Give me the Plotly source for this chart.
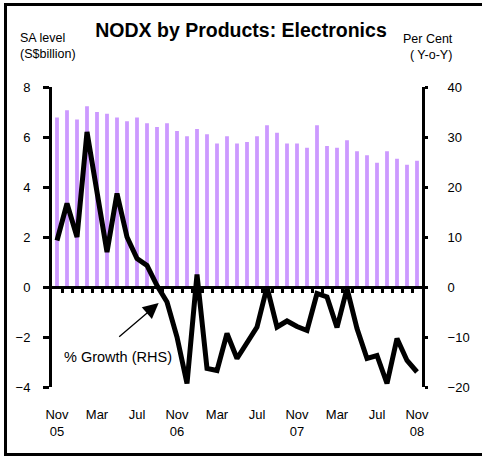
import plotly.graph_objects as go

# ---- data ----
months = list(range(37))  # Nov 05 .. Nov 08
nodx_level = [6.78, 7.07, 6.70, 7.23, 7.00, 6.93, 6.78, 6.63, 6.78, 6.55,
              6.40, 6.55, 6.24, 6.03, 6.32, 6.11, 5.74, 6.03, 5.74, 5.80,
              6.03, 6.47, 6.17, 5.74, 5.74, 5.57, 6.47, 5.64, 5.57, 5.87,
              5.43, 5.27, 4.97, 5.43, 5.13, 4.89, 5.05]
growth_yoy = [9.3, 16.7, 10.0, 31.0, 19.0, 7.0, 18.7, 10.0, 5.7, 4.3,
              0.3, -3.0, -10.0, -19.3, 2.5, -16.3, -16.7, -9.3, -14.3, -11.0,
              -8.0, 0.0, -8.0, -6.8, -7.9, -8.7, -1.3, -2.0, -8.1, -0.3,
              -8.3, -14.3, -13.7, -19.3, -10.3, -14.7, -17.0]
tick_pos = [0, 4, 8, 12, 16, 20, 24, 28, 32, 36]
tick_text = ["Nov<br>05", "Mar", "Jul", "Nov<br>06", "Mar", "Jul",
             "Nov<br>07", "Mar", "Jul", "Nov<br>08"]
left_ticks = [-4, -2, 0, 2, 4, 6, 8]
right_ticks = [-20, -10, 0, 10, 20, 30, 40]

W, H = 482, 456
L, R, T, B = 52, 52, 87, 69
PW, PH = W - L - R, H - T - B


def px(x):
    return (x - L) / PW


def py(y):
    return (H - B - y) / PH


FONT = "Liberation Sans, Arial, sans-serif"

fig = go.Figure()
fig.add_trace(go.Bar(x=months, y=nodx_level, marker_color="#CC99FF",
                     marker_line_width=0, xaxis="x", yaxis="y",
                     showlegend=False))
fig.add_trace(go.Scatter(x=months, y=growth_yoy, mode="lines",
                         line=dict(color="black", width=5),
                         xaxis="x2", yaxis="y2", showlegend=False))

fig.update_layout(
    width=W, height=H,
    margin=dict(l=L, r=R, t=T, b=B, pad=0),
    paper_bgcolor="white", plot_bgcolor="white",
    font=dict(family=FONT, size=13, color="black"),
    bargap=0.62,
    title=dict(text="<b>NODX by Products: Electronics</b>",
               x=0.5, xref="container", xanchor="center",
               y=1 - 30 / H, yref="container", yanchor="middle",
               font=dict(size=19.5, family=FONT, color="black")),
    xaxis=dict(range=[-0.5, 36.5], tickvals=tick_pos, ticktext=tick_text,
               showline=False, ticks="", showgrid=False, zeroline=False,
               ticklabelstandoff=18, tickfont=dict(size=13)),
    xaxis2=dict(range=[-0.5, 36.5], overlaying="x", anchor="free",
                position=1 / 3, showline=True, linecolor="black",
                linewidth=3, ticks="outside", ticklen=4, tickwidth=2.5,
                tickcolor="black",
                tickvals=[k + 0.5 for k in range(36)],
                showticklabels=False, showgrid=False, zeroline=False),
    yaxis=dict(range=[-4, 8], tickvals=left_ticks, showline=True,
               linecolor="black", linewidth=3, ticks="outside", ticklen=6,
               tickwidth=3, tickcolor="black", showgrid=False,
               zeroline=False, ticklabelstandoff=10,
               tickfont=dict(size=13)),
    yaxis2=dict(range=[-20, 40], tickvals=right_ticks, overlaying="y",
                side="right", anchor="x2", showline=True, linecolor="black",
                linewidth=3, ticks="outside", ticklen=3, tickwidth=3,
                tickcolor="black", showgrid=False, zeroline=False,
                ticklabelstandoff=17, tickfont=dict(size=13)),
)

fig.add_annotation(xref="paper", yref="paper", showarrow=False,
                   text="SA level<br>(S$billion)", align="left",
                   x=px(17), y=py(46), xanchor="left", yanchor="middle",
                   font=dict(size=12.5, family=FONT))
fig.add_annotation(xref="paper", yref="paper", showarrow=False,
                   text="Per Cent<br>( Y-o-Y)", align="right",
                   x=px(464), y=py(47), xanchor="right", yanchor="middle",
                   font=dict(size=12.5, family=FONT))

# label + arrow pointing at the growth line
fig.add_annotation(xref="paper", yref="paper", x=px(119), y=py(357),
                   xanchor="center", yanchor="middle",
                   text="% Growth (RHS)", showarrow=False,
                   font=dict(size=14.5, family=FONT))
fig.add_annotation(xref="paper", yref="paper", x=px(161), y=py(303),
                   ax=120 - 161, ay=338 - 303,
                   text="", showarrow=True, arrowhead=2, arrowsize=2.4,
                   arrowwidth=1.3, arrowcolor="black")

# outer frame
fig.add_shape(type="rect", xref="paper", yref="paper",
              x0=px(4.5), x1=px(495), y0=py(454.5), y1=py(4.5),
              line=dict(color="black", width=3), fillcolor="rgba(0,0,0,0)")

fig.write_html("out.html", config={"displayModeBar": False},
               post_script="document.body.style.margin='0';"
                           "document.body.style.overflow='hidden';")
